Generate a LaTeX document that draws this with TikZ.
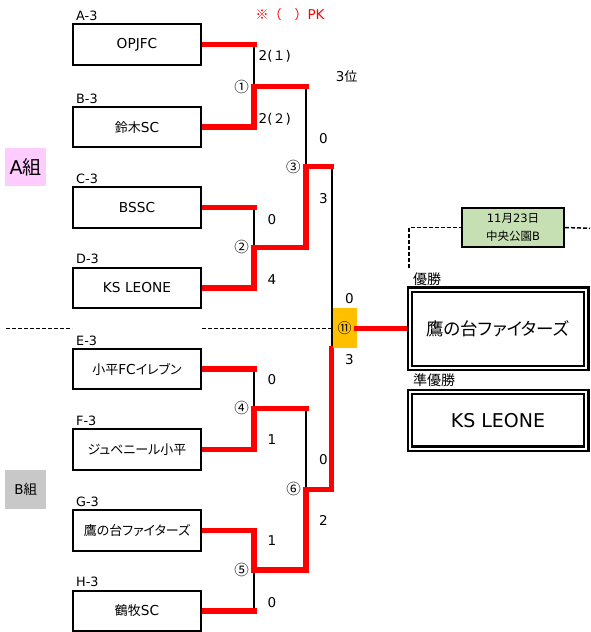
\documentclass[tikz,border=0pt]{standalone}
\usepackage{fontspec}
\setmainfont{DejaVu Sans}
\newfontfamily\jp[RawFeature=+palt]{Noto Sans CJK JP}
\newfontfamily\jpf{Noto Sans CJK JP}
\newcommand\fsz[1]{\fontsize{#1}{#1}\selectfont}
\newcommand\jtx{\fontsize{13}{13}\jp}
\definecolor{winred}{HTML}{FF0000}
\definecolor{gold}{HTML}{FFC000}
\definecolor{pinkbg}{HTML}{FFCCFF}
\definecolor{graybg}{HTML}{C8C8C8}
\definecolor{greenbg}{HTML}{C6E0B4}
\begin{document}
\begin{tikzpicture}[x=1pt,y=-1pt,
  team/.style={draw,line width=2pt,fill=white,minimum width=128.6pt,minimum height=40.4pt,inner sep=0pt,font=\fsz{13.7}},
  seed/.style={anchor=west,inner sep=0pt,font=\fsz{12.8}},
  win/.style={line width=5.5pt,winred,line join=miter,line cap=rect},
  lose/.style={line width=2pt,black},
  score/.style={inner sep=0pt,font=\fsz{13.5}},
  mnum/.style={inner sep=0pt,font=\fontsize{14.5}{14.5}\jpf},
  dashline/.style={line width=1.5pt,dash pattern=on 4pt off 2pt},
  result/.style={draw,line width=2.2pt,double,double distance=2pt,fill=white,minimum width=176.6pt,inner sep=0pt},
  rlabel/.style={anchor=west,inner sep=0pt,font=\fontsize{14}{14}\jpf}
]
\useasboundingbox (0,0) rectangle (590,632);

\path
  (137,44.5)  coordinate (cA)
  (137,127.2) coordinate (cB)
  (137,207.5) coordinate (cC)
  (137,287.8) coordinate (cD)
  (137,369.2) coordinate (cE)
  (137,449.3) coordinate (cF)
  (137,530.5) coordinate (cG)
  (137,611)   coordinate (cH);

\coordinate (j1) at (254,86.7);
\coordinate (j2) at (254,247.3);
\coordinate (j3) at (306,166.7);
\coordinate (j4) at (254,408.3);
\coordinate (j5) at (254,570);
\coordinate (j6) at (306,489.3);
\coordinate (fx) at (331.7,328.3);
\coordinate (dl) at (6,328.3);
\coordinate (dv) at (409,268);
\coordinate (dr) at (590,228.3);

% final box
\node[fill=gold,minimum width=24pt,minimum height=40pt,inner sep=0pt,font=\fontsize{14}{14}\jpf] (FIN) at (344.7,328.3) {⑪};

% dashed separators
\draw[dashline] (dl) -- (dl -| 72,0);
\draw[dashline] (202,328.3) -- (fx);

% loser (black) lines
\draw[lose] (cA -| j1) -- (j1);
\draw[lose] (cC -| j2) -- (j2);
\draw[lose] (j1 -| j3) -- (j3);
\draw[lose] (cE -| j4) -- (j4);
\draw[lose] (cH -| j5) -- (j5);
\draw[lose] (j4 -| j6) -- (j6);
\draw[lose] (j3 -| fx) -- (fx |- FIN.south);

% red lines
\draw[win] (cA) -- (cA -| j1);
\draw[win] (cC) -- (cC -| j2);
\draw[win] (cE) -- (cE -| j4);
\draw[win] (cH) -- (cH -| j5);
\draw[win] (cB) -- (cB -| j1) -- (j1) -- (j1 -| j3);
\draw[win] (cD) -- (cD -| j2) -- (j2) -- (j2 -| j3) -- (j3) -- (j3 -| fx);
\draw[win] (cF) -- (cF -| j4) -- (j4) -- (j4 -| j6);
\draw[win] (cG) -- (cG -| j5) -- (j5) -- (j5 -| j6) -- (j6) -- (j6 -| fx) -- (fx |- FIN.south);

% final box again on top
\node[fill=gold,minimum width=24pt,minimum height=40pt,inner sep=0pt,font=\fontsize{14}{14}\jpf] (FIN2) at (344.7,328.3) {⑪};

% team boxes
\node[team] (A) at (cA) {OPJFC};
\node[team] (B) at (cB) {{\jtx 鈴木}SC};
\node[team] (C) at (cC) {BSSC};
\node[team] (D) at (cD) {KS LEONE};
\node[team] (E) at (cE) {{\jtx 小平}FC{\jtx イレブン}};
\node[team] (F) at (cF) {{\jtx ジュベニール小平}};
\node[team] (G) at (cG) {{\jtx 鷹の台ファイターズ}};
\node[team] (H) at (cH) {{\jtx 鶴牧}SC};

% seed labels
\node[seed] (lA) at (76,15.5) {A-3};
\node[seed] (lB) at (76,99) {B-3};
\node[seed] (lC) at (76,179) {C-3};
\node[seed] (lD) at (76,259) {D-3};
\node[seed] (lE) at (76,340.5) {E-3};
\node[seed] (lF) at (76,421) {F-3};
\node[seed] (lG) at (76,501.5) {G-3};
\node[seed] (lH) at (76,582) {H-3};

% group labels
\node[fill=pinkbg,minimum width=41pt,minimum height=38pt,inner sep=0pt,font=\fsz{19}] (GA) at (25.5,167) {A{\fontsize{19}{19}\jpf 組}};
\node[fill=graybg,minimum width=41.5pt,minimum height=39.3pt,inner sep=0pt,font=\fsz{13.5}] (GB) at (25.7,489.7) {B{\fontsize{13.5}{13.5}\jpf 組}};

% match numbers
\node[mnum] (m1) at (241.6,86.8) {①};
\node[mnum] (m2) at (241.6,247.3) {②};
\node[mnum] (m3) at (293.3,167) {③};
\node[mnum] (m4) at (241.6,408.3) {④};
\node[mnum] (m5) at (241.6,570) {⑤};
\node[mnum] (m6) at (293.5,489.3) {⑥};

% scores
\node[score] (s1a) at (274.8,56.7) {2({\fontsize{13}{13}\jpf １})};
\node[score] (s1b) at (274.8,119) {2({\fontsize{13}{13}\jpf ２})};
\node[score] (s3a) at (323.3,138.3) {0};
\node[score] (s3b) at (323.3,198.3) {3};
\node[score] (s2a) at (272,219.3) {0};
\node[score] (s2b) at (272,279.3) {4};
\node[score] (s4a) at (272,380) {0};
\node[score] (s4b) at (272,440) {1};
\node[score] (s6a) at (323.3,460) {0};
\node[score] (s6b) at (323.3,520.7) {2};
\node[score] (s5a) at (272,541) {1};
\node[score] (s5b) at (272,602.3) {0};
\node[score] (sfa) at (349.3,298.3) {0};
\node[score] (sfb) at (349.3,360) {3};
\node[score] (third) at (346.7,77) {3{\fontsize{13}{13}\jpf 位}};
\node[score,text=winred] (pk) at (290,15) {{\fontsize{13}{13}\jpf ※（　）}PK};

% date / venue box and dashed lead
\node[draw,line width=2pt,fill=greenbg,minimum width=102pt,minimum height=38.4pt,inner sep=0pt,align=center,font=\fontsize{11.5}{18}\selectfont] (V) at (513,227.5) {11{\jpf 月}23{\jpf 日}\\{\jpf 中央公園}B};
\draw[dashline] (dv) -- (dv |- V.west) -- (V.west);
\draw[dashline] (V.east) -- (dr);

% champion and runner-up
\draw[win] (FIN2.east) -- (409.7,328.3);
\node[result,minimum height=78.3pt] (W) at (498,328.8) {{\fontsize{17.5}{17.5}\jp 鷹の台ファイターズ}};
\node[result,minimum height=56.7pt,font=\fsz{19}] (R) at (498,420.3) {KS LEONE};
\node[rlabel] (lw) at (413,278.7) {優勝};
\node[rlabel] (lr) at (413,380) {準優勝};
\end{tikzpicture}
\end{document}
